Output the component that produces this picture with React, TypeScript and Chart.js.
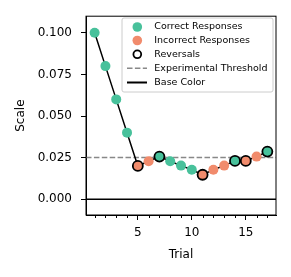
import React, { useEffect, useRef } from "react";
import { Chart, registerables } from "chart.js";

Chart.register(...registerables);

const trials = [1, 2, 3, 4, 5, 6, 7, 8, 9, 10, 11, 12, 13, 14, 15, 16, 17];
const scaleValues = [0.1, 0.08, 0.06, 0.04, 0.02, 0.0228, 0.0256, 0.0228, 0.0202, 0.0177, 0.0147, 0.0177, 0.0202, 0.023, 0.023, 0.0256, 0.0286];
const correct = [1, 1, 1, 1, 0, 0, 1, 1, 1, 1, 0, 0, 0, 1, 0, 0, 1];
const reversal = [0, 0, 0, 0, 1, 0, 1, 0, 0, 0, 1, 0, 0, 1, 1, 0, 1];
const threshold = 0.025;
const baseValue = 0;
const yTicks = [0, 0.025, 0.05, 0.075, 0.1];
const xMajorTicks = [5, 10, 15];
const legendLabels = ["Correct Responses", "Incorrect Responses", "Reversals", "Experimental Threshold", "Base Color"];

const GREEN = "#48c19b";
const ORANGE = "#f18b6c";
const FONT = "'DejaVu Sans', sans-serif";

const decorPlugin = {
  id: "decor",
  beforeDatasetsDraw(chart: any) {
    const { ctx, chartArea } = chart;
    const y = chart.scales.y;
    ctx.save();
    ctx.strokeStyle = "#888888";
    ctx.lineWidth = 1.5;
    ctx.setLineDash([5.5, 2.4]);
    const ty = y.getPixelForValue(threshold);
    ctx.beginPath();
    ctx.moveTo(chartArea.left, ty);
    ctx.lineTo(chartArea.right, ty);
    ctx.stroke();
    ctx.setLineDash([]);
    ctx.strokeStyle = "#000";
    ctx.lineWidth = 1.5;
    const by = y.getPixelForValue(baseValue);
    ctx.beginPath();
    ctx.moveTo(chartArea.left, by);
    ctx.lineTo(chartArea.right, by);
    ctx.stroke();
    ctx.restore();
  },
  afterDraw(chart: any) {
    const { ctx, chartArea } = chart;
    const x = chart.scales.x;
    ctx.save();
    ctx.strokeStyle = "#000";
    ctx.lineWidth = 1;
    ctx.strokeRect(chartArea.left, chartArea.top, chartArea.right - chartArea.left, chartArea.bottom - chartArea.top);
    trials.forEach((t) => {
      if (xMajorTicks.includes(t)) return;
      const px = Math.round(x.getPixelForValue(t)) + 0.5;
      ctx.beginPath();
      ctx.moveTo(px, chartArea.bottom);
      ctx.lineTo(px, chartArea.bottom + 3);
      ctx.stroke();
    });
    const bx = 122, byTop = 18, bw = 151, bh = 74;
    ctx.fillStyle = "rgba(255,255,255,0.8)";
    ctx.strokeStyle = "#cccccc";
    ctx.lineWidth = 1;
    ctx.beginPath();
    const r = 2;
    ctx.moveTo(bx + r, byTop);
    ctx.arcTo(bx + bw, byTop, bx + bw, byTop + bh, r);
    ctx.arcTo(bx + bw, byTop + bh, bx, byTop + bh, r);
    ctx.arcTo(bx, byTop + bh, bx, byTop, r);
    ctx.arcTo(bx, byTop, bx + bw, byTop, r);
    ctx.closePath();
    ctx.fill();
    ctx.stroke();
    const rows = [27, 40.5, 54.3, 68.3, 82.5];
    const mx = 137.3;
    ctx.fillStyle = GREEN;
    ctx.beginPath();
    ctx.arc(mx, rows[0], 4.8, 0, Math.PI * 2);
    ctx.fill();
    ctx.fillStyle = ORANGE;
    ctx.beginPath();
    ctx.arc(mx, rows[1], 4.8, 0, Math.PI * 2);
    ctx.fill();
    ctx.strokeStyle = "#000";
    ctx.lineWidth = 1.8;
    ctx.beginPath();
    ctx.arc(mx, rows[2], 3.9, 0, Math.PI * 2);
    ctx.stroke();
    ctx.lineWidth = 1.5;
    ctx.strokeStyle = "#888888";
    ctx.setLineDash([5.5, 2.4]);
    ctx.beginPath();
    ctx.moveTo(127, rows[3]);
    ctx.lineTo(147, rows[3]);
    ctx.stroke();
    ctx.setLineDash([]);
    ctx.strokeStyle = "#000";
    ctx.lineWidth = 2;
    ctx.beginPath();
    ctx.moveTo(127, rows[4]);
    ctx.lineTo(147, rows[4]);
    ctx.stroke();
    ctx.fillStyle = "#000";
    ctx.font = "9.5px " + FONT;
    ctx.textBaseline = "middle";
    ctx.textAlign = "left";
    legendLabels.forEach((l, i) => ctx.fillText(l, 154.3, rows[i]));
    ctx.restore();
  },
};

export default function App() {
  const ref = useRef<HTMLCanvasElement>(null);
  useEffect(() => {
    if (!ref.current) return;
    const chart = new Chart(ref.current, {
      type: "line",
      data: {
        datasets: [
          {
            data: trials.map((t, i) => ({ x: t, y: scaleValues[i] })),
            borderColor: "#000",
            borderWidth: 1.5,
            pointRadius: 5,
            pointBackgroundColor: correct.map((c) => (c ? GREEN : ORANGE)),
            pointBorderColor: reversal.map((rv, i) => (rv ? "#000" : correct[i] ? GREEN : ORANGE)),
            pointBorderWidth: reversal.map((rv) => (rv ? 1.8 : 0)),
            tension: 0,
          },
        ],
      },
      options: {
        responsive: false,
        devicePixelRatio: 1,
        animation: false,
        layout: { padding: { left: 0, top: 14, right: 15, bottom: 0 } },
        plugins: { legend: { display: false }, tooltip: { enabled: false } },
        scales: {
          x: {
            type: "linear",
            min: 0.2,
            max: 17.8,
            afterBuildTicks: (s: any) => {
              s.ticks = xMajorTicks.map((v) => ({ value: v }));
            },
            afterFit: (s: any) => {
              s.height = 62;
            },
            ticks: {
              color: "#000",
              font: { family: FONT, size: 12 },
              padding: 6,
              maxRotation: 0,
              autoSkip: false,
              callback: (v: any) => String(v),
            },
            grid: { drawOnChartArea: false, tickLength: 5, color: "#000", lineWidth: 1 },
            border: { color: "#000", width: 1 },
            title: {
              display: true,
              text: "Trial",
              color: "#000",
              font: { family: FONT, size: 12 },
              padding: { top: 0, bottom: 15 },
            },
          },
          y: {
            type: "linear",
            min: -0.0095,
            max: 0.11,
            afterBuildTicks: (s: any) => {
              s.ticks = yTicks.map((v) => ({ value: v }));
            },
            afterFit: (s: any) => {
              s.width = 86;
            },
            ticks: {
              color: "#000",
              font: { family: FONT, size: 12 },
              padding: 9,
              callback: (v: any) => Number(v).toFixed(3),
            },
            grid: { drawOnChartArea: false, tickLength: 5, color: "#000", lineWidth: 1 },
            border: { color: "#000", width: 1 },
            title: {
              display: true,
              text: "Scale",
              color: "#000",
              font: { family: FONT, size: 12 },
              padding: { top: 14, bottom: 0 },
            },
          },
        },
      },
      plugins: [decorPlugin],
    } as any);
    return () => chart.destroy();
  }, []);
  return (
    <div style={{ position: "fixed", left: 0, top: 0, width: 291, height: 277, background: "#fff" }}>
      <canvas ref={ref} width={291} height={277} style={{ display: "block", width: 291, height: 277 }} />
    </div>
  );
}
